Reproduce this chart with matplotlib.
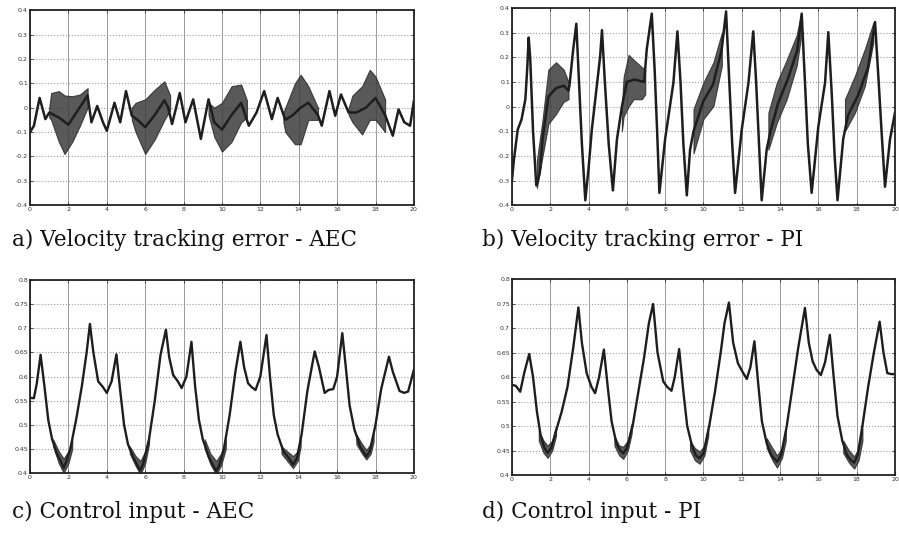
import matplotlib
matplotlib.use("Agg")
import matplotlib.pyplot as plt
import numpy as np

# ---- data ----
# a) velocity tracking error - AEC : main line
a_t = [0, 0.2, 0.5, 0.8, 1.0, 1.5, 2.0, 2.5, 3.0, 3.2, 3.5, 3.8, 4.0, 4.4, 4.7, 5.0,
       5.3, 5.6, 6.0, 6.5, 7.0, 7.2, 7.4, 7.8, 8.1, 8.5, 8.9, 9.3, 9.6, 10.0, 10.5,
       11.0, 11.4, 11.8, 12.2, 12.6, 12.9, 13.3, 13.7, 14.1, 14.5, 15.0, 15.2, 15.6,
       15.9, 16.2, 16.6, 17.0, 17.5, 18.0, 18.5, 18.9, 19.2, 19.5, 19.8, 20.0]
a_v = [-0.1, -0.075, 0.04, -0.047, -0.02, -0.04, -0.07, -0.01, 0.05, -0.06, 0.007,
       -0.06, -0.095, 0.02, -0.06, 0.068, -0.033, -0.05, -0.08, -0.03, 0.03, 0.0,
       -0.067, 0.06, -0.06, 0.034, -0.128, 0.034, -0.06, -0.09, -0.03, 0.02, -0.074,
       -0.02, 0.068, -0.047, 0.04, -0.05, -0.03, 0.0, 0.02, -0.03, -0.074, 0.068,
       -0.033, 0.054, -0.02, -0.02, 0.0, 0.04, -0.03, -0.115, -0.007, -0.06, -0.074,
       0.027]
# chatter bands (time, lower, upper)
a_bands = [
    ([1.0, 1.1, 1.5, 1.8, 2.2, 2.6, 3.0],
     [-0.04, -0.05, -0.14, -0.19, -0.14, -0.074, 0.0],
     [0.0, 0.06, 0.068, 0.05, 0.047, 0.054, 0.08]),
    ([5.3, 5.5, 6.0, 6.5, 7.0, 7.3],
     [-0.05, -0.1, -0.19, -0.13, -0.05, -0.01],
     [0.0, 0.02, 0.034, 0.074, 0.108, 0.05]),
    ([9.3, 9.6, 10.0, 10.5, 11.0, 11.3],
     [-0.03, -0.12, -0.18, -0.14, -0.06, -0.04],
     [0.02, 0.0, 0.02, 0.088, 0.095, 0.03]),
    ([13.2, 13.3, 13.8, 14.1, 14.5, 15.0],
     [-0.06, -0.1, -0.15, -0.15, -0.05, -0.05],
     [-0.02, 0.0, 0.1, 0.135, 0.088, 0.0]),
    ([16.6, 16.8, 17.3, 17.7, 18.0, 18.5],
     [-0.03, -0.06, -0.11, -0.05, -0.05, -0.1],
     [0.0, 0.05, 0.088, 0.155, 0.128, 0.034]),
]

# b) velocity tracking error - PI
b_t = [0, 0.1, 0.3, 0.5, 0.7, 0.8, 0.87, 0.95, 1.1, 1.27, 1.45, 1.6, 1.9, 2.3, 2.7,
       2.95, 3.0, 3.2, 3.36, 3.5, 3.65, 3.83, 4.0, 4.17, 4.43, 4.6, 4.7, 4.85, 5.05,
       5.27, 5.48, 5.74, 6.0, 6.4, 6.9, 7.04, 7.3, 7.45, 7.58, 7.7, 8.0, 8.43, 8.64,
       8.8, 8.95, 9.13, 9.3, 9.48, 9.98, 10.5, 10.95, 11.18, 11.35, 11.5, 11.65,
       12.0, 12.35, 12.6, 12.75, 12.9, 13.04, 13.3, 13.5, 13.9, 14.4, 14.9, 15.13,
       15.3, 15.45, 15.65, 16.0, 16.35, 16.52, 16.7, 16.85, 17.0, 17.3, 17.55,
       18.1, 18.6, 18.96, 19.15, 19.3, 19.48, 19.74, 20.0]
b_v = [-0.298, -0.216, -0.093, -0.052, 0.03, 0.16, 0.28, 0.2, -0.1, -0.32, -0.27,
       -0.13, 0.04, 0.075, 0.085, 0.065, 0.084, 0.234, 0.336, 0.1, -0.15, -0.38,
       -0.25, -0.093, 0.084, 0.2, 0.31, 0.1, -0.15, -0.34, -0.134, 0.0, 0.1, 0.11,
       0.1, 0.234, 0.377, 0.15, -0.1, -0.35, -0.13, 0.097, 0.305, 0.1, -0.15, -0.36,
       -0.175, -0.1, 0.02, 0.09, 0.23, 0.386, 0.1, -0.15, -0.35, -0.093, 0.097,
       0.305, 0.1, -0.15, -0.38, -0.175, -0.1, 0.015, 0.11, 0.23, 0.377, 0.1, -0.15,
       -0.35, -0.08, 0.097, 0.302, 0.05, -0.2, -0.38, -0.13, -0.035, 0.05, 0.16,
       0.343, 0.1, -0.1, -0.325, -0.134, -0.025]
b_bands = [
    ([1.3, 1.6, 1.9, 2.3, 2.7, 2.95],
     [-0.33, -0.2, -0.07, -0.03, 0.02, 0.03],
     [-0.22, -0.05, 0.15, 0.18, 0.15, 0.1]),
    ([5.74, 5.83, 6.09, 6.35, 6.78, 6.96],
     [-0.1, -0.04, 0.0, 0.03, 0.03, 0.05],
     [0.0, 0.12, 0.21, 0.19, 0.16, 0.15]),
    ([9.48, 10.0, 10.52, 10.96],
     [-0.19, -0.05, 0.002, 0.166],
     [-0.01, 0.098, 0.18, 0.3]),
    ([13.39, 13.83, 14.35, 14.87, 15.08],
     [-0.175, -0.066, 0.03, 0.166, 0.275],
     [-0.025, 0.097, 0.19, 0.29, 0.37]),
    ([17.39, 17.91, 18.43, 18.87],
     [-0.1, -0.025, 0.084, 0.26],
     [0.03, 0.125, 0.234, 0.34]),
]

# c) control input - AEC
c_t = [0, 0.2, 0.35, 0.55, 0.75, 0.95, 1.15, 1.4, 1.6, 1.75, 1.9, 2.1, 2.4, 2.7,
       2.95, 3.12, 3.3, 3.55, 3.8, 4.0, 4.25, 4.5, 4.7, 4.9, 5.1, 5.35, 5.6, 5.75,
       5.9, 6.2, 6.5, 6.8, 7.08, 7.25, 7.46, 7.7, 7.9, 8.15, 8.41, 8.6, 8.8, 9.0,
       9.3, 9.55, 9.7, 9.85, 10.1, 10.4, 10.7, 10.96, 11.15, 11.36, 11.55, 11.75,
       12.0, 12.32, 12.5, 12.7, 12.9, 13.2, 13.5, 13.7, 13.9, 14.15, 14.45, 14.83,
       15.05, 15.35, 15.55, 15.8, 16.0, 16.27, 16.45, 16.65, 16.9, 17.2, 17.52,
       17.7, 18.0, 18.3, 18.7, 18.9, 19.25, 19.5, 19.7, 20.0]
c_v = [0.556, 0.555, 0.585, 0.645, 0.58, 0.51, 0.47, 0.44, 0.425, 0.41, 0.425,
       0.45, 0.51, 0.58, 0.65, 0.709, 0.65, 0.59, 0.578, 0.566, 0.59, 0.646, 0.57,
       0.5, 0.46, 0.435, 0.415, 0.405, 0.42, 0.47, 0.55, 0.645, 0.697, 0.64, 0.603,
       0.59, 0.576, 0.6, 0.672, 0.58, 0.51, 0.47, 0.435, 0.415, 0.404, 0.415, 0.45,
       0.52, 0.61, 0.672, 0.62, 0.586, 0.578, 0.572, 0.6, 0.686, 0.6, 0.52, 0.48,
       0.445, 0.43, 0.417, 0.43, 0.48, 0.57, 0.652, 0.62, 0.566, 0.572, 0.574, 0.6,
       0.69, 0.62, 0.54, 0.49, 0.455, 0.434, 0.445, 0.5, 0.575, 0.641, 0.61, 0.57,
       0.566, 0.569, 0.614]
# jagged trough regions (time, lower, upper)
c_bands = [
    ([1.2, 1.5, 1.75, 2.0, 2.2], [0.455, 0.42, 0.40, 0.42, 0.45], [0.47, 0.445, 0.43, 0.445, 0.47]),
    ([5.2, 5.5, 5.75, 6.0, 6.2], [0.44, 0.415, 0.397, 0.42, 0.46], [0.455, 0.435, 0.425, 0.445, 0.475]),
    ([9.1, 9.4, 9.7, 9.95, 10.2], [0.45, 0.418, 0.397, 0.415, 0.45], [0.47, 0.44, 0.425, 0.44, 0.47]),
    ([13.1, 13.4, 13.7, 13.95, 14.1], [0.44, 0.425, 0.41, 0.425, 0.455], [0.455, 0.445, 0.435, 0.445, 0.47]),
    ([17.0, 17.3, 17.52, 17.75, 17.9], [0.46, 0.44, 0.428, 0.44, 0.465], [0.48, 0.46, 0.448, 0.46, 0.485]),
]

# d) control input - PI
d_t = [0, 0.2, 0.43, 0.65, 0.9, 1.1, 1.3, 1.5, 1.7, 1.86, 2.05, 2.3, 2.6, 2.9, 3.2,
       3.47, 3.65, 3.9, 4.15, 4.34, 4.55, 4.8, 5.0, 5.2, 5.45, 5.65, 5.81, 6.0, 6.3,
       6.6, 6.9, 7.15, 7.37, 7.6, 7.9, 8.1, 8.33, 8.5, 8.73, 8.95, 9.15, 9.4, 9.6,
       9.8, 10.0, 10.3, 10.6, 10.9, 11.1, 11.33, 11.55, 11.8, 12.05, 12.26, 12.45,
       12.66, 12.85, 13.05, 13.3, 13.55, 13.84, 14.05, 14.35, 14.65, 14.95, 15.3,
       15.5, 15.7, 15.9, 16.13, 16.35, 16.6, 16.8, 17.0, 17.25, 17.5, 17.7, 17.87,
       18.05, 18.3, 18.6, 18.9, 19.2, 19.4, 19.6, 19.8, 20.0]
d_v = [0.584, 0.582, 0.570, 0.61, 0.647, 0.6, 0.53, 0.48, 0.455, 0.445, 0.455,
       0.49, 0.53, 0.58, 0.66, 0.742, 0.67, 0.608, 0.58, 0.567, 0.6, 0.656, 0.58,
       0.51, 0.465, 0.45, 0.444, 0.455, 0.5, 0.57, 0.64, 0.71, 0.749, 0.65, 0.591,
       0.58, 0.572, 0.6, 0.657, 0.57, 0.5, 0.46, 0.44, 0.434, 0.445, 0.5, 0.57,
       0.65, 0.71, 0.752, 0.67, 0.628, 0.61, 0.596, 0.62, 0.673, 0.59, 0.51, 0.465,
       0.44, 0.427, 0.44, 0.5, 0.58, 0.66, 0.741, 0.67, 0.632, 0.615, 0.604, 0.63,
       0.686, 0.6, 0.52, 0.47, 0.44, 0.43, 0.425, 0.44, 0.5, 0.58, 0.65, 0.713,
       0.65, 0.608, 0.606, 0.606]
d_bands = [
    ([1.4, 1.65, 1.86, 2.1, 2.3], [0.47, 0.445, 0.435, 0.45, 0.48], [0.49, 0.47, 0.46, 0.47, 0.5]),
    ([5.35, 5.6, 5.81, 6.05, 6.25], [0.46, 0.44, 0.433, 0.45, 0.485], [0.48, 0.46, 0.458, 0.47, 0.505]),
    ([9.3, 9.55, 9.8, 10.05, 10.25], [0.45, 0.43, 0.423, 0.44, 0.48], [0.47, 0.455, 0.448, 0.46, 0.5]),
    ([13.3, 13.6, 13.84, 14.1, 14.3], [0.455, 0.43, 0.415, 0.435, 0.47], [0.475, 0.455, 0.44, 0.455, 0.495]),
    ([17.3, 17.6, 17.87, 18.1, 18.3], [0.445, 0.425, 0.413, 0.43, 0.47], [0.47, 0.45, 0.438, 0.455, 0.495]),
]

x_ticks = list(range(0, 21, 2))
err_ticks = [-0.4, -0.3, -0.2, -0.1, 0, 0.1, 0.2, 0.3, 0.4]
err_labels = ['-0.4', '-0.3', '-0.2', '-0.1', '0', '0.1', '0.2', '0.3', '0.4']
u_ticks = [0.4, 0.45, 0.5, 0.55, 0.6, 0.65, 0.7, 0.75, 0.8]
u_labels = ['0.4', '0.45', '0.5', '0.55', '0.6', '0.65', '0.7', '0.75', '0.8']

captions = ['a) Velocity tracking error - AEC', 'b) Velocity tracking error - PI',
            'c) Control input - AEC', 'd) Control input - PI']

LINE = '#1e1e1e'


def style_axes(ax, yticks, ylabels, ylim):
    ax.set_xlim(0, 20)
    ax.set_ylim(*ylim)
    ax.set_xticks(x_ticks)
    ax.set_xticklabels([str(v) for v in x_ticks])
    ax.set_yticks(yticks)
    ax.set_yticklabels(ylabels)
    ax.tick_params(direction='in', top=True, right=True, labelsize=4.5,
                   length=2, width=0.6, pad=1.5, colors='#333333')
    ax.xaxis.grid(True, color='#8a8a8a', linestyle='-', linewidth=0.6)
    ax.yaxis.grid(True, color='#9a9a9a', linestyle=':', linewidth=0.8)
    ax.set_axisbelow(True)
    for s in ax.spines.values():
        s.set_linewidth(1.3)
        s.set_color('#222222')


fig = plt.figure(figsize=(8.99, 5.33), dpi=100)

ax_a = fig.add_axes([0.0334, 0.615, 0.427, 0.366])
ax_b = fig.add_axes([0.5695, 0.615, 0.426, 0.370])
ax_c = fig.add_axes([0.0334, 0.1126, 0.427, 0.362])
ax_d = fig.add_axes([0.5695, 0.1088, 0.426, 0.3677])

for ax, bands in [(ax_a, a_bands), (ax_b, b_bands), (ax_c, c_bands), (ax_d, d_bands)]:
    for bt, lo, hi in bands:
        ax.fill_between(bt, lo, hi, color='#3c3c3c', alpha=0.85, linewidth=0.8,
                        edgecolor='#2a2a2a')

ax_a.plot(a_t, a_v, color=LINE, linewidth=1.8)
ax_b.plot(b_t, b_v, color=LINE, linewidth=1.8)
ax_c.plot(c_t, c_v, color=LINE, linewidth=1.7)
ax_d.plot(d_t, d_v, color=LINE, linewidth=1.7)

style_axes(ax_a, err_ticks, err_labels, (-0.4, 0.4))
style_axes(ax_b, err_ticks, err_labels, (-0.4, 0.4))
style_axes(ax_c, u_ticks, u_labels, (0.4, 0.8))
style_axes(ax_d, u_ticks, u_labels, (0.4, 0.8))

cap_pos = [(12, 240), (482, 240), (12, 512), (482, 512)]
for (px, py), cap in zip(cap_pos, captions):
    fig.text(px / 899, 1 - py / 533, cap, fontsize=15.5, family='DejaVu Serif',
             va='center', ha='left', color='#111111')

fig.savefig('out.png', dpi=100, facecolor='white')
